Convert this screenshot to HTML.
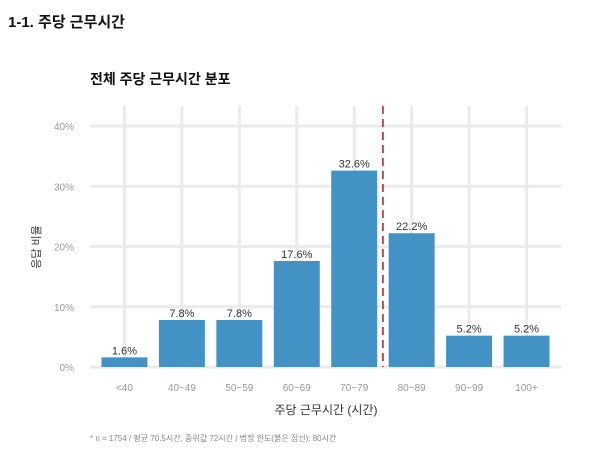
<!DOCTYPE html>
<html><head><meta charset="utf-8"><style>
body{margin:0;background:#fff;font-family:"Liberation Sans","Noto Sans CJK KR",sans-serif;}
svg{display:block}
</style></head><body>
<svg width="600" height="455" xmlns="http://www.w3.org/2000/svg">
<text x="8" y="27" font-size="15" font-weight="bold" fill="#111" font-family="Liberation Sans,Noto Sans CJK KR,sans-serif">1-1. 주당 근무시간</text>
<text x="90" y="84" font-size="14" font-weight="bold" fill="#111" font-family="Liberation Sans,Noto Sans CJK KR,sans-serif">전체 주당 근무시간 분포</text>
<g id="grid"></g>
<g id="bars"></g>
<g id="labels"></g>
<g id="axes"></g>
<text transform="translate(40,247) rotate(-90)" text-anchor="middle" font-size="11" fill="#333" font-family="Liberation Sans,Noto Sans CJK KR,sans-serif">응답 비율</text>
<text x="326" y="414" text-anchor="middle" font-size="12" fill="#333" font-family="Liberation Sans,Noto Sans CJK KR,sans-serif">주당 근무시간 (시간)</text>
<text x="90" y="441" font-size="8" fill="#888" font-family="Liberation Sans,Noto Sans CJK KR,sans-serif">* n = 1754 / 평균 70.5시간, 중위값 72시간 / 법정 한도(붉은 점선): 80시간</text>
</svg>
<script>
const categories=["<40","40~49","50~59","60~69","70~79","80~89","90~99","100+"];
const values=[1.6,7.8,7.8,17.6,32.6,22.2,5.2,5.2];
const yTicks=[0,10,20,30,40];
const limitPosition=5.5;
const NS="http://www.w3.org/2000/svg";
const L=90,R=561,Y0=367,Y40=126,TOP=106;
const step=(R-L)/(categories.length+0.2);
const x=i=>L+(i+0.6)*step;
const y=v=>Y0-(v/40)*(Y0-Y40);
function mk(tag,attrs,parent,text){const e=document.createElementNS(NS,tag);for(const k in attrs)e.setAttribute(k,attrs[k]);if(text!==undefined)e.textContent=text;document.getElementById(parent).appendChild(e);return e;}
yTicks.forEach(t=>{
 const g=mk('line',{x1:L,x2:R,y1:y(t),y2:y(t),stroke:'#ebebeb','stroke-width':3},'grid');
 
 
 const tx=mk('text',{x:L-16,y:y(t)+4,'text-anchor':'end','font-size':10,fill:'#999'},'axes',t+'%');
 
 
});
categories.forEach((c,i)=>{
 const g=mk('line',{x1:x(i),x2:x(i),y1:TOP,y2:Y0,stroke:'#ebebeb','stroke-width':3},'grid');
 
 
 const bw=step*0.8;
 const b=mk('rect',{x:x(i)-bw/2,y:y(values[i]),width:bw,height:Y0-y(values[i]),fill:'#4292c6'},'bars');
 
 
 const lb=mk('text',{x:x(i),y:y(values[i])-3,'text-anchor':'middle','font-size':11,fill:'#333'},'labels',values[i].toFixed(1)+'%');
 
 
 const tx=mk('text',{x:x(i),y:Y0+24,'text-anchor':'middle','font-size':10,fill:'#999'},'axes',c);
 
 
});
const dl=mk('line',{x1:x(limitPosition-1),x2:x(limitPosition-1),y1:TOP,y2:Y0,stroke:'#b2182b','stroke-width':1.5,'stroke-dasharray':'8,5'},'axes');


</script>
</body></html>
